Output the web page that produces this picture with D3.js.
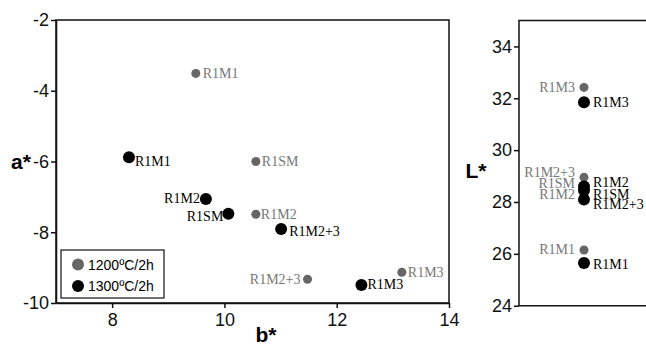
<!DOCTYPE html>
<html>
<head>
<meta charset="utf-8">
<script src="https://cdn.jsdelivr.net/npm/d3@7"></script>
<style>
body { margin: 0; background: #fff; }
.axis text { font-family: "Liberation Sans", Arial, sans-serif; font-size: 18px; fill: #111; }
.axis path, .axis line { stroke: #111; stroke-width: 1.5; }
</style>
</head>
<body>
<svg width="646" height="346"></svg>
<script>
// data
const samples = ["R1M1", "R1SM", "R1M2", "R1M2+3", "R1M3"];
const b1200 = [9.49, 10.56, 10.56, 11.48, 13.16];
const a1200 = [-3.51, -6.0, -7.49, -9.33, -9.13];
const L1200 = [26.15, 28.65, 28.5, 28.95, 32.42];
const b1300 = [8.30, 10.07, 9.67, 11.01, 12.44];
const a1300 = [-5.88, -7.48, -7.06, -7.91, -9.49];
const L1300 = [25.65, 28.45, 28.6, 28.1, 31.85];
const bTicks = [8, 10, 12, 14];
const aTicks = [-2, -4, -6, -8, -10];
const LTicks = [24, 26, 28, 30, 32, 34];
const legendLabels = ["1200ºC/2h", "1300ºC/2h"];

// label placement (dx, dy, anchor) per sample, same order as samples
const abOff1200 = [[7, 0, "start"], [6, 0, "start"], [5, 0, "start"], [-7, 0, "end"], [6, 0, "start"]];
const abOff1300 = [[6, 4, "start"], [-5, 3, "end"], [-6, 0, "end"], [8, 2, "start"], [6, 0, "start"]];
const LOff1200 = [[-9, 0, "end"], [-9, -1.5, "end"], [-9, 5.5, "end"], [-9, -5, "end"], [-9, 0, "end"]];
const LOff1300 = [[9, 2, "start"], [9, 4, "start"], [9, -4, "start"], [9, 5, "start"], [9, 0, "start"]];

const grey = "#666", greyText = "#777", black = "#000";
const fmt = d => String(d);   // plain hyphen, like the original

const svg = d3.select("svg");

// ---- left panel: a* vs b*
const x = d3.scaleLinear([7, 14], [56, 449]);
const y = d3.scaleLinear([-10, -2], [303, 20]);

svg.append("rect")
    .attr("x", 56).attr("y", 20)
    .attr("width", 393).attr("height", 283)
    .attr("fill", "none").attr("stroke", "#111").attr("stroke-width", 1.5);

svg.append("g").attr("class", "axis")
    .attr("transform", "translate(56,0)")
    .call(d3.axisLeft(y).tickValues(aTicks).tickFormat(fmt).tickSize(5).tickSizeOuter(0).tickPadding(2));

svg.append("g").attr("class", "axis")
    .attr("transform", "translate(0,303)")
    .call(d3.axisBottom(x).tickValues(bTicks).tickFormat(fmt).tickSize(5).tickSizeOuter(0).tickPadding(5));

function drawSeries(g, xs, ys, offs, fill, textFill, r) {
    samples.forEach((s, i) => {
        const cx = xs(i), cy = ys(i);
        g.append("circle").attr("cx", cx).attr("cy", cy).attr("r", r).attr("fill", fill);
        g.append("text")
            .attr("x", cx + offs[i][0]).attr("y", cy + offs[i][1])
            .attr("dominant-baseline", "central")
            .attr("text-anchor", offs[i][2])
            .attr("fill", textFill)
            .style("font-family", "'Liberation Serif', 'DejaVu Serif', serif")
            .style("font-size", "14px")
            .text(s);
    });
}

const left = svg.append("g");
drawSeries(left, i => x(b1200[i]), i => y(a1200[i]), abOff1200, grey, greyText, 4.5);
drawSeries(left, i => x(b1300[i]), i => y(a1300[i]), abOff1300, black, black, 6);

svg.append("text").attr("x", 21).attr("y", 169)
    .attr("text-anchor", "middle")
    .style("font-family", "Liberation Sans, Arial, sans-serif")
    .style("font-size", "21px").style("font-weight", "bold")
    .text("a*");

svg.append("text").attr("x", 266).attr("y", 342)
    .attr("text-anchor", "middle")
    .style("font-family", "Liberation Sans, Arial, sans-serif")
    .style("font-size", "21px").style("font-weight", "bold")
    .text("b*");

// legend
const leg = svg.append("g");
leg.append("rect").attr("x", 61).attr("y", 250).attr("width", 103).attr("height", 48)
    .attr("fill", "#fff").attr("stroke", "#111").attr("stroke-width", 1.2);
legendLabels.forEach((t, i) => {
    const ly = 264.5 + i * 21.5;
    leg.append("circle").attr("cx", 78).attr("cy", ly).attr("r", 6)
        .attr("fill", i === 0 ? grey : black);
    leg.append("text").attr("x", 88).attr("y", ly)
        .attr("dominant-baseline", "central")
        .style("font-family", "Liberation Sans, Arial, sans-serif")
        .style("font-size", "14px")
        .text(t);
});

// ---- right panel: L*
const yL = d3.scaleLinear([24, 35], [305.7, 20.5]);
const px = 584;

svg.append("path")
    .attr("d", `M660,${yL(35)}H519V${yL(24)}H660`)
    .attr("fill", "none").attr("stroke", "#111").attr("stroke-width", 1.5);

svg.append("g").attr("class", "axis")
    .attr("transform", "translate(519,0)")
    .call(d3.axisLeft(yL).tickValues(LTicks).tickFormat(fmt).tickSize(5).tickSizeOuter(0).tickPadding(2))
    .call(g => g.select(".domain").remove());

const right = svg.append("g");
drawSeries(right, i => px, i => yL(L1200[i]), LOff1200, grey, greyText, 4.5);
drawSeries(right, i => px, i => yL(L1300[i]), LOff1300, black, black, 6);

svg.append("text").attr("x", 476).attr("y", 178)
    .attr("text-anchor", "middle")
    .style("font-family", "Liberation Sans, Arial, sans-serif")
    .style("font-size", "21px").style("font-weight", "bold")
    .text("L*");
</script>
</body>
</html>
